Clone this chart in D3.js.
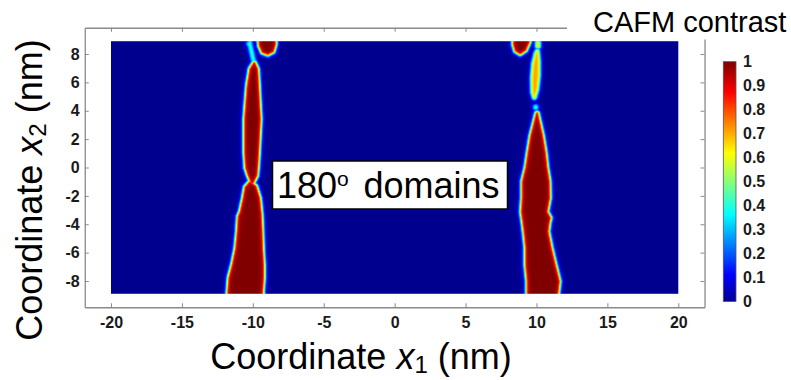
<!DOCTYPE html>
<html>
<head>
<meta charset="utf-8">
<script src="https://cdn.jsdelivr.net/npm/d3@7"></script>
<style>
  body { margin: 0; background: #fff; }
  svg { display: block; }
  text { font-family: "Liberation Sans", Arial, sans-serif; }
</style>
</head>
<body>
<svg id="chart" width="791" height="380"></svg>
<script>
// ---- data -------------------------------------------------------------
const xTicks = [-20, -15, -10, -5, 0, 5, 10, 15, 20];
const yTicks = [-8, -6, -4, -2, 0, 2, 4, 6, 8];
const cbTicks = [0, 0.1, 0.2, 0.3, 0.4, 0.5, 0.6, 0.7, 0.8, 0.9, 1];
const cbLabels = ["0", "0.1", "0.2", "0.3", "0.4", "0.5", "0.6", "0.7", "0.8", "0.9", "1"];
const mapExtentX = [-20, 20];      // simulated region, nm
const mapExtentY = [-8.9, 8.9];
const axisLimX = [-21.85, 21.85];
const axisLimY = [-9.85, 9.85];

// jet colour map stops (value, colour)
const jetStops = [
  [0, "#00008f"], [0.111, "#0000ff"], [0.365, "#00ffff"],
  [0.619, "#ffff00"], [0.873, "#ff0000"], [1, "#800000"]
];

// outlines of the switched domain cores, [x1, x2] in nm
const leftLens = [
  [-9.90, 7.35], [-9.71, 6.93], [-9.64, 5.75], [-9.52, 3.41], [-9.64, 1.06],
  [-9.71, -0.02], [-9.76, -0.55], [-10.05, -1.12], [-10.30, -0.51],
  [-10.46, -0.02], [-10.53, 1.06], [-10.53, 3.41], [-10.35, 5.75], [-10.16, 6.93]
];
const leftColumn = [
  [-10.20, -1.05], [-9.82, -1.35], [-9.57, -2.15], [-9.45, -3.33], [-9.40, -4.51],
  [-9.36, -5.68], [-9.29, -6.85], [-9.29, -7.79], [-9.36, -8.73], [-9.36, -9.4],
  [-11.75, -9.4], [-11.71, -8.73], [-11.64, -7.79], [-11.40, -6.85], [-11.16, -5.68],
  [-11.05, -4.51], [-10.98, -3.45], [-10.85, -3.15], [-10.63, -2.15], [-10.50, -1.40]
];
const leftTail = [
  [-9.92, 7.30], [-10.20, 8.55], [-10.30, 8.72], [-10.20, 8.78], [-10.16, 8.55], [-9.88, 7.30]
];
const leftCap = [
  [-9.55, 9.4], [-8.50, 9.4], [-8.45, 8.70], [-8.60, 8.20], [-8.95, 8.02],
  [-9.30, 8.15], [-9.50, 8.60]
];
const rightCap = [
  [8.45, 9.4], [9.45, 9.4], [9.45, 8.85], [9.20, 8.30], [8.85, 8.06],
  [8.55, 8.25], [8.42, 8.70]
];
const rightDotTop = [[10.07, 8.55], [10.14, 8.55], [10.14, 8.76], [10.07, 8.76]];
const rightLens = [
  [10.06, 8.20], [10.13, 7.50], [10.13, 6.50], [10.02, 5.50], [9.85, 4.95],
  [9.74, 5.30], [9.72, 6.30], [9.80, 7.30], [9.98, 8.05]
];
const rightDotMid = [[9.92, 4.21], [9.97, 4.21], [9.97, 4.28], [9.92, 4.28]];
const rightColumn = [
  [10.04, 3.80], [10.39, 2.23], [10.58, 1.06], [10.70, -0.02], [10.86, -0.99],
  [10.88, -2.15], [10.70, -3.12], [10.93, -3.55], [10.85, -3.90], [10.77, -4.51],
  [11.00, -5.68], [11.28, -6.85], [11.57, -8.03], [11.48, -8.73], [11.40, -9.4],
  [9.40, -9.4], [9.40, -8.73], [9.40, -8.03], [9.29, -6.85], [9.29, -5.68],
  [9.17, -4.51], [9.06, -3.68], [8.98, -3.12], [9.05, -2.15], [9.05, -0.99],
  [9.29, -0.02], [9.45, 1.06], [9.64, 2.23]
];
// peak contrast of each domain
const domainPeaks = [1, 1, 0.45, 1, 1, 0.7, 0.72, 0.45, 1];

const domains = [leftLens, leftColumn, leftTail, leftCap, rightCap, rightDotTop,
  rightLens, rightDotMid, rightColumn].map((pts, i) => ({ pts, peak: domainPeaks[i] }));

// ---- scales ------------------------------------------------------------
const svg = d3.select("#chart");
const x = d3.scaleLinear().domain([-20, 20]).range([111, 678.3]);
const y = d3.scaleLinear().domain([-8, 8]).range([281, 54]);
const jet = d3.scaleLinear().domain(jetStops.map(d => d[0]))
  .range(jetStops.map(d => d[1])).clamp(true);
const plainNum = d => String(d);   // hyphen-minus, as printed on the axes

svg.append("rect").attr("width", 791).attr("height", 380).attr("fill", "#fff");

// ---- contrast map --------------------------------------------------------
const wallWidth = 0.15, wallOffset = 0.15;
function signedDistance(p, poly) {
  let best = Infinity;
  for (let i = 0, j = poly.length - 1; i < poly.length; j = i++) {
    const ax = poly[j][0], ay = poly[j][1], bx = poly[i][0], by = poly[i][1];
    const dx = bx - ax, dy = by - ay;
    let t = ((p[0] - ax) * dx + (p[1] - ay) * dy) / (dx * dx + dy * dy);
    t = Math.max(0, Math.min(1, t));
    const ex = ax + t * dx - p[0], ey = ay + t * dy - p[1];
    best = Math.min(best, ex * ex + ey * ey);
  }
  const d = Math.sqrt(best);
  return d3.polygonContains(poly, p) ? d : -d;
}
domains.forEach(dm => {
  dm.x0 = d3.min(dm.pts, p => p[0]) - 1; dm.x1 = d3.max(dm.pts, p => p[0]) + 1;
  dm.y0 = d3.min(dm.pts, p => p[1]) - 1; dm.y1 = d3.max(dm.pts, p => p[1]) + 1;
});
function contrast(px, py) {
  let v = 0;
  for (const dm of domains) {
    if (px < dm.x0 || px > dm.x1 || py < dm.y0 || py > dm.y1) continue;
    const d = signedDistance([px, py], dm.pts);
    const c = dm.peak * 0.5 * (1 + Math.tanh((d + wallOffset) / wallWidth));
    if (c > v) v = c;
  }
  return v;
}

const mx0 = x(mapExtentX[0]), mx1 = x(mapExtentX[1]);
const my0 = y(mapExtentY[1]), my1 = y(mapExtentY[0]);
const cw = Math.round(mx1 - mx0), ch = Math.round(my1 - my0);
const canvas = document.createElement("canvas");
canvas.width = cw; canvas.height = ch;
const ctx = canvas.getContext("2d");
const img = ctx.createImageData(cw, ch);
const lut = d3.range(256).map(i => d3.rgb(jet(i / 255)));
for (let j = 0; j < ch; j++) {
  const py = y.invert(my0 + (j + 0.5) * (my1 - my0) / ch);
  for (let i = 0; i < cw; i++) {
    const px = x.invert(mx0 + (i + 0.5) * (mx1 - mx0) / cw);
    const c = lut[Math.round(contrast(px, py) * 255)];
    const k = (j * cw + i) * 4;
    img.data[k] = c.r; img.data[k + 1] = c.g; img.data[k + 2] = c.b; img.data[k + 3] = 255;
  }
}
ctx.putImageData(img, 0, 0);
svg.append("image")
  .attr("x", mx0).attr("y", my0).attr("width", mx1 - mx0).attr("height", my1 - my0)
  .attr("preserveAspectRatio", "none")
  .attr("href", canvas.toDataURL());

// ---- axes box ------------------------------------------------------------
const bx0 = x(axisLimX[0]), bx1 = x(axisLimX[1]);
const by0 = y(axisLimY[1]), by1 = y(axisLimY[0]);
const xb = x.copy().domain(axisLimX).range([bx0, bx1]);
const yb = y.copy().domain(axisLimY).range([by1, by0]);

function styleAxis(g) {
  g.selectAll(".domain").attr("stroke", "#8a8a8a").attr("stroke-width", 1.3);
  g.selectAll(".tick line").attr("stroke", "#8a8a8a").attr("stroke-width", 1);
  g.selectAll(".tick text").attr("fill", "#1a1a1a").attr("font-weight", "bold")
    .attr("font-size", 16).attr("font-family", "'Liberation Sans', Arial, sans-serif");
}
svg.append("g").attr("transform", `translate(0,${by1})`)
  .call(d3.axisBottom(xb).tickValues(xTicks).tickFormat(plainNum)
    .tickSizeInner(-4).tickSizeOuter(0).tickPadding(9.5))
  .call(styleAxis);
svg.append("g").attr("transform", `translate(0,${by0})`)
  .call(d3.axisTop(xb).tickValues(xTicks).tickFormat("").tickSizeInner(-4).tickSizeOuter(0))
  .call(styleAxis);
svg.append("g").attr("transform", `translate(${bx0},0)`)
  .call(d3.axisLeft(yb).tickValues(yTicks).tickFormat(plainNum)
    .tickSizeInner(-4).tickSizeOuter(0).tickPadding(5))
  .call(styleAxis);
svg.append("g").attr("transform", `translate(${bx1},0)`)
  .call(d3.axisRight(yb).tickValues(yTicks).tickFormat("").tickSizeInner(-4).tickSizeOuter(0))
  .call(styleAxis);

// ---- colour bar title ----------------------------------------------------
svg.append("rect").attr("x", 567).attr("y", 0).attr("width", 224).attr("height", 39.5)
  .attr("fill", "#fff");
svg.append("text").attr("x", 593).attr("y", 31.5).attr("font-size", 29).attr("fill", "#000")
  .text("CAFM contrast");

// ---- colour bar ----------------------------------------------------------
const cb = d3.scaleLinear().domain([0, 1]).range([301.5, 61.7]);
const grad = svg.append("defs").append("linearGradient").attr("id", "jetGrad")
  .attr("x1", 0).attr("y1", 1).attr("x2", 0).attr("y2", 0);
grad.selectAll("stop").data(jetStops).join("stop")
  .attr("offset", d => d[0]).attr("stop-color", d => d[1]);
svg.append("rect").attr("x", 723.3).attr("y", cb(1)).attr("width", 12.7)
  .attr("height", cb(0) - cb(1)).attr("fill", "url(#jetGrad)")
  .attr("stroke", "#555").attr("stroke-width", 0.8);
const cbAxis = svg.append("g").attr("transform", "translate(736,0)")
  .call(d3.axisRight(cb).tickValues(cbTicks).tickFormat((d, i) => cbLabels[i])
    .tickSize(0).tickPadding(7));
cbAxis.select(".domain").remove();
cbAxis.selectAll(".tick text").attr("fill", "#1a1a1a").attr("font-weight", "bold")
  .attr("font-size", 16).attr("font-family", "'Liberation Sans', Arial, sans-serif");

// ---- annotation ----------------------------------------------------------
svg.append("rect").attr("x", 272.5).attr("y", 161).attr("width", 235).attr("height", 48)
  .attr("fill", "#fff").attr("stroke", "#000").attr("stroke-width", 1.5);
const ann = svg.append("text").attr("y", 197.5).attr("font-size", 36).attr("fill", "#000");
ann.append("tspan").attr("x", 277).text("180");
ann.append("tspan").attr("font-size", 21).attr("dy", -12).text("o");
ann.append("tspan").attr("x", 363.5).attr("dy", 12).text("domains");

// ---- axis titles ---------------------------------------------------------
const xt = svg.append("text").attr("x", 361).attr("y", 368.5).attr("text-anchor", "middle")
  .attr("font-size", 36).attr("fill", "#000");
xt.append("tspan").text("Coordinate ");
xt.append("tspan").attr("font-style", "italic").text("x");
xt.append("tspan").attr("font-size", 24).attr("dy", 4).text("1");
xt.append("tspan").attr("dy", -4).text(" (nm)");

const yt = svg.append("text").attr("transform", "translate(41.5,190) rotate(-90)")
  .attr("text-anchor", "middle").attr("font-size", 36).attr("fill", "#000");
yt.append("tspan").text("Coordinate ");
yt.append("tspan").attr("font-style", "italic").text("x");
yt.append("tspan").attr("font-size", 24).attr("dy", 4).text("2");
yt.append("tspan").attr("dy", -4).text(" (nm)");
</script>
</body>
</html>
